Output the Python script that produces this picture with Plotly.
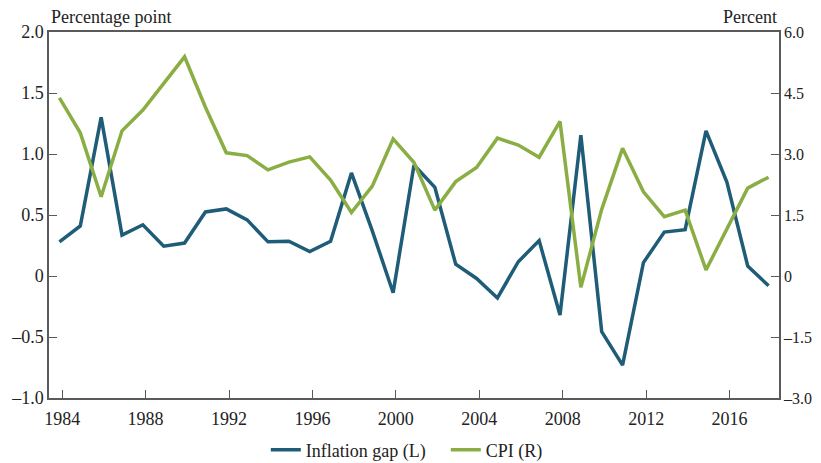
import plotly.graph_objects as go

years = list(range(1984, 2019))
inflation_gap = [0.28, 0.41, 1.30, 0.335, 0.42, 0.245, 0.27, 0.525, 0.55, 0.46, 0.28, 0.285, 0.20, 0.285, 0.845, 0.37,
                 -0.137, 0.91, 0.727, 0.096, -0.02, -0.18, 0.117, 0.29, -0.32, 1.155, -0.457, -0.73, 0.11, 0.36, 0.38,
                 1.19, 0.77, 0.082, -0.08]
cpi = [4.38, 3.52, 1.95, 3.57, 4.08, 4.72, 5.39, 4.15, 3.03, 2.96, 2.61, 2.8, 2.93, 2.36, 1.56, 2.21,
       3.37, 2.79, 1.62, 2.32, 2.67, 3.39, 3.22, 2.92, 3.8, -0.28, 1.64, 3.14, 2.07, 1.46, 1.62,
       0.15, 1.17, 2.16, 2.43]

x_tick_years = [1984, 1988, 1992, 1996, 2000, 2004, 2008, 2012, 2016]
left_ticks = [2.0, 1.5, 1.0, 0.5, 0, -0.5, -1.0]
left_labels = ["2.0", "1.5", "1.0", "0.5", "0", "\u20130.5", "\u20131.0"]
right_ticks = [6.0, 4.5, 3.0, 1.5, 0, -1.5, -3.0]
right_labels = ["6.0", "4.5", "3.0", "1.5", "0", "\u20131.5", "\u20133.0"]

BLUE = "#1e5c78"
GREEN = "#8aae44"
AX = "#5a5a5a"
FONT = "Liberation Serif"
FS = 18

fig = go.Figure()
fig.add_trace(go.Scatter(x=years, y=inflation_gap, mode="lines", name="Inflation gap (L)",
                         line=dict(color=BLUE, width=3.5), yaxis="y"))
fig.add_trace(go.Scatter(x=years, y=cpi, mode="lines", name="CPI (R)",
                         line=dict(color=GREEN, width=3.5), yaxis="y2"))

fig.update_layout(
    width=813, height=455,
    margin=dict(l=41, r=42, t=24, b=65, autoexpand=False),
    paper_bgcolor="white", plot_bgcolor="white",
    font=dict(family=FONT, size=FS, color="#222"),
    showlegend=True,
    legend=dict(orientation="h", x=0.297, xanchor="left", y=-0.142, yanchor="middle",
                font=dict(family=FONT, size=FS, color="#222"), itemwidth=30,
                entrywidth=135, entrywidthmode="pixels",
                bgcolor="rgba(0,0,0,0)"),
    xaxis=dict(range=[1983.5, 2018.5], tickvals=[y + 0.13 for y in x_tick_years],
               ticktext=[str(y) for y in x_tick_years], ticks="inside", ticklen=8,
               tickcolor=AX, showline=True, linecolor=AX, linewidth=1.5, mirror=True,
               showgrid=False, zeroline=False, automargin=False, ticklabelstandoff=4),
    yaxis=dict(range=[-1.0, 2.0], tickvals=left_ticks, ticktext=left_labels, ticks="inside",
               ticklen=8, tickcolor=AX, showline=True, linecolor=AX, linewidth=1.5,
               showgrid=False, zeroline=False, automargin=False),
    yaxis2=dict(range=[-3.0, 6.0], tickvals=right_ticks, ticktext=right_labels, ticks="inside",
                ticklen=8, tickcolor=AX, showline=True, linecolor=AX, linewidth=1.5,
                showgrid=False, zeroline=False, overlaying="y", side="right", automargin=False,
                ticklabelstandoff=0, tickfont=dict(family=FONT, size=16, color="#222")),
    annotations=[
        dict(text="Percentage point", x=0, xref="paper", xanchor="left", y=1, yref="paper",
             yanchor="bottom", yshift=3, showarrow=False, font=dict(family=FONT, size=FS, color="#222")),
        dict(text="Percent", x=1, xref="paper", xanchor="right", y=1, yref="paper",
             yanchor="bottom", yshift=3, showarrow=False, font=dict(family=FONT, size=FS, color="#222")),
    ],
)

fig.write_html("out.html")
